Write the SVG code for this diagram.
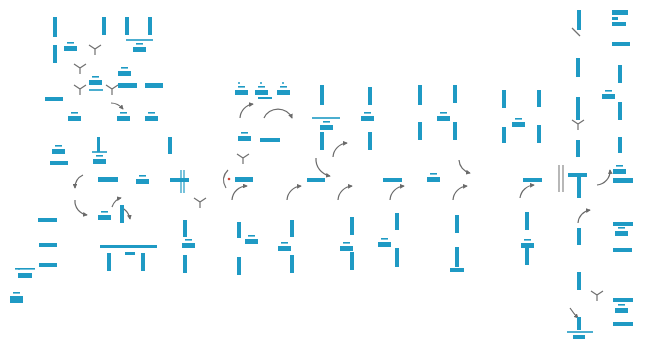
<svg xmlns="http://www.w3.org/2000/svg" xmlns:xlink="http://www.w3.org/1999/xlink" width="645" height="347" viewBox="0 0 645 347">
<style>
.b{fill:#1f9ac4}
.l{stroke:#1f9ac4;stroke-width:1.6}
.a{fill:none;stroke:#6a6a6a;stroke-width:1.2;marker-end:url(#ah)}
.y{fill:none;stroke:#707070;stroke-width:1.2}
</style>
<defs>
<marker id="ah" viewBox="0 0 6 6" refX="5" refY="3" markerWidth="4" markerHeight="4" orient="auto"><path d="M0,0 L6,3 L0,6 z" fill="#6a6a6a"/></marker>
<g id="lab"><rect class="b" x="3" y="0" width="7" height="1.6"/><rect class="b" x="0" y="4" width="13" height="5"/></g>
<g id="ys"><path class="y" d="M0,0 L-6,-4 M0,0 L6,-4 M0,0 L0,6"/></g>
</defs>
<rect width="645" height="347" fill="#ffffff"/>

<g id="left-top">
<rect class="b" x="53" y="17" width="4" height="20"/>
<rect class="b" x="53" y="45" width="4" height="18"/>
<rect class="b" x="102" y="17" width="4" height="18"/>
<rect class="b" x="125" y="17" width="4" height="18"/>
<rect class="b" x="148" y="17" width="4" height="18"/>
<line class="l" x1="126" y1="40" x2="153" y2="40"/>
<use xlink:href="#lab" x="64" y="42"/>
<use xlink:href="#lab" x="133" y="43"/>
<use xlink:href="#ys" x="95" y="49"/>
<use xlink:href="#ys" x="80" y="68"/>
<use xlink:href="#ys" x="80" y="89"/>
<use xlink:href="#ys" x="112" y="89"/>
<use xlink:href="#lab" x="89" y="76"/>
<line class="l" x1="89" y1="90" x2="103" y2="90"/>
<use xlink:href="#lab" x="118" y="67"/>
<rect class="b" x="118" y="83" width="19" height="5"/>
<rect class="b" x="145" y="83" width="18" height="5"/>
<rect class="b" x="45" y="97" width="18" height="4"/>
<path class="a" d="M111,103 Q118,103 123,109"/>
<use xlink:href="#lab" x="68" y="112"/>
<use xlink:href="#lab" x="117" y="112"/>
<use xlink:href="#lab" x="145" y="112"/>
</g>

<g id="left-mid">
<use xlink:href="#lab" x="52" y="145"/>
<rect class="b" x="50" y="161" width="18" height="4"/>
<rect class="b" x="97" y="137" width="3" height="15"/>
<line class="l" x1="92" y1="152" x2="107" y2="152"/>
<use xlink:href="#lab" x="93" y="155"/>
<rect class="b" x="168" y="137" width="4" height="17"/>
<path class="a" d="M83,175 A14,14 0 0 0 75,188"/>
<rect class="b" x="98" y="177" width="20" height="5"/>
<use xlink:href="#lab" x="136" y="175"/>
<rect class="b" x="170" y="178" width="19" height="4"/>
<line class="l" x1="181" y1="170" x2="181" y2="193" style="stroke-width:1.2"/>
<line class="l" x1="184" y1="170" x2="184" y2="193" style="stroke-width:1.2"/>
<path class="a" d="M75,200 A14,14 0 0 0 87,215"/>
<use xlink:href="#lab" x="98" y="211"/>
<rect class="b" x="120" y="205" width="4" height="18"/>
<path class="a" d="M112,207 Q115,199 121,198"/>
<path class="a" d="M124,209 Q129,213 130,219"/>
<rect class="b" x="38" y="218" width="19" height="4"/>
<use xlink:href="#ys" x="200" y="202"/>
</g>

<g id="left-bottom">
<rect class="b" x="39" y="243" width="18" height="4"/>
<rect class="b" x="39" y="263" width="18" height="4"/>
<rect class="b" x="18" y="268" width="2" height="1.5"/>
<rect class="b" x="15" y="268" width="20" height="1.6"/>
<rect class="b" x="18" y="273" width="14" height="5"/>
<use xlink:href="#lab" x="10" y="292"/>
<rect class="b" x="10" y="298" width="13" height="5"/>
<rect class="b" x="100" y="245" width="57" height="3"/>
<rect class="b" x="125" y="252" width="10" height="3"/>
<rect class="b" x="107" y="253" width="4" height="18"/>
<rect class="b" x="141" y="253" width="4" height="18"/>
<rect class="b" x="183" y="220" width="4" height="17"/>
<use xlink:href="#lab" x="182" y="239"/>
<rect class="b" x="183" y="255" width="4" height="18"/>
</g>

<g id="middle-top">
<use xlink:href="#lab" x="235" y="86"/>
<use xlink:href="#lab" x="255" y="86"/>
<use xlink:href="#lab" x="277" y="86"/>
<circle cx="239" cy="83" r="1" fill="#1f9ac4"/>
<circle cx="261" cy="83" r="1" fill="#1f9ac4"/>
<circle cx="283" cy="83" r="1" fill="#1f9ac4"/>
<rect class="b" x="258" y="97" width="14" height="2"/>
<path class="a" d="M240,118 A15,15 0 0 1 253,104"/>
<path class="a" d="M264,118 A15,14 0 0 1 292,118"/>
<use xlink:href="#lab" x="238" y="132"/>
<rect class="b" x="260" y="138" width="20" height="4"/>
<use xlink:href="#ys" x="243" y="158"/>
<path class="y" d="M228,170 Q220,178 226,188"/>
<circle cx="229" cy="179" r="1.3" fill="#d04a3a"/>
<rect class="b" x="235" y="177" width="18" height="5"/>
<rect class="b" x="320" y="85" width="4" height="20"/>
<line class="l" x1="312" y1="118" x2="340" y2="118"/>
<use xlink:href="#lab" x="320" y="121"/>
<rect class="b" x="320" y="132" width="4" height="18"/>
<rect class="b" x="368" y="87" width="4" height="18"/>
<use xlink:href="#lab" x="361" y="112"/>
<rect class="b" x="368" y="132" width="4" height="18"/>
<path class="a" d="M333,157 A15,15 0 0 1 347,143"/>
<path class="a" d="M316,158 A17,17 0 0 0 330,176"/>
<rect class="b" x="307" y="178" width="18" height="4"/>
<rect class="b" x="383" y="178" width="19" height="4"/>
<use xlink:href="#lab" x="427" y="173"/>
<rect class="b" x="523" y="178" width="19" height="4"/>
<path class="a" d="M459,160 A14,14 0 0 0 470,173"/>
<rect class="b" x="418" y="85" width="4" height="20"/>
<rect class="b" x="418" y="122" width="4" height="18"/>
<rect class="b" x="453" y="85" width="4" height="18"/>
<rect class="b" x="453" y="122" width="4" height="18"/>
<use xlink:href="#lab" x="437" y="112"/>
<rect class="b" x="502" y="90" width="4" height="18"/>
<rect class="b" x="502" y="127" width="4" height="16"/>
<rect class="b" x="537" y="90" width="4" height="17"/>
<rect class="b" x="537" y="125" width="4" height="18"/>
<use xlink:href="#lab" x="512" y="118"/>
</g>

<g id="middle-arcs">
<path class="a" d="M232,200 A15,15 0 0 1 247,186"/>
<path class="a" d="M287,200 A15,15 0 0 1 301,186"/>
<path class="a" d="M338,200 A15,15 0 0 1 352,186"/>
<path class="a" d="M390,200 A15,15 0 0 1 404,186"/>
<path class="a" d="M453,200 A15,15 0 0 1 467,186"/>
<path class="a" d="M520,198 A15,15 0 0 1 534,185"/>
</g>

<g id="middle-bottom">
<rect class="b" x="237" y="222" width="4" height="16"/>
<use xlink:href="#lab" x="245" y="235"/>
<rect class="b" x="237" y="257" width="4" height="18"/>
<rect class="b" x="290" y="220" width="4" height="17"/>
<use xlink:href="#lab" x="278" y="242"/>
<rect class="b" x="290" y="255" width="4" height="18"/>
<rect class="b" x="350" y="217" width="4" height="18"/>
<use xlink:href="#lab" x="340" y="242"/>
<rect class="b" x="350" y="252" width="4" height="18"/>
<rect class="b" x="395" y="213" width="4" height="17"/>
<use xlink:href="#lab" x="378" y="238"/>
<rect class="b" x="395" y="248" width="4" height="19"/>
<rect class="b" x="455" y="215" width="4" height="18"/>
<rect class="b" x="455" y="247" width="4" height="20"/>
<rect class="b" x="450" y="268" width="14" height="4"/>
<rect class="b" x="525" y="212" width="4" height="18"/>
<use xlink:href="#lab" x="521" y="239"/>
<rect class="b" x="525" y="248" width="4" height="17"/>
</g>

<g id="right">
<rect class="b" x="577" y="10" width="4" height="20"/>
<path class="y" d="M572,28 L580,36"/>
<rect class="b" x="612" y="10" width="16" height="5"/>
<rect class="b" x="612" y="17" width="6" height="3"/>
<rect class="b" x="612" y="22" width="14" height="4"/>
<rect class="b" x="612" y="42" width="18" height="4"/>
<rect class="b" x="576" y="58" width="4" height="19"/>
<rect class="b" x="618" y="65" width="4" height="18"/>
<use xlink:href="#lab" x="602" y="90"/>
<rect class="b" x="576" y="97" width="4" height="23"/>
<use xlink:href="#ys" x="578" y="124"/>
<rect class="b" x="618" y="102" width="4" height="18"/>
<rect class="b" x="576" y="140" width="4" height="17"/>
<rect class="b" x="618" y="137" width="4" height="16"/>
<line x1="559" y1="165" x2="559" y2="192" stroke="#888" stroke-width="1.2"/>
<line x1="563" y1="165" x2="563" y2="192" stroke="#888" stroke-width="1.2"/>
<rect class="b" x="568" y="173" width="19" height="4"/>
<rect class="b" x="577" y="176" width="4" height="22"/>
<path class="a" d="M597,185 A14,14 0 0 0 610,170"/>
<use xlink:href="#lab" x="613" y="165"/>
<rect class="b" x="613" y="178" width="20" height="5"/>
<path class="a" d="M578,223 A14,14 0 0 1 590,210"/>
<rect class="b" x="577" y="228" width="4" height="17"/>
<rect class="b" x="613" y="222" width="20" height="4"/>
<use xlink:href="#lab" x="615" y="227"/>
<rect class="b" x="613" y="248" width="19" height="4"/>
<rect class="b" x="577" y="272" width="4" height="18"/>
<use xlink:href="#ys" x="597" y="295"/>
<rect class="b" x="613" y="298" width="20" height="4"/>
<use xlink:href="#lab" x="615" y="304"/>
<rect class="b" x="613" y="322" width="20" height="4"/>
<path class="a" d="M570,308 Q574,314 578,318"/>
<rect class="b" x="577" y="317" width="4" height="13"/>
<line class="l" x1="567" y1="332" x2="593" y2="332"/>
<rect class="b" x="573" y="335" width="12" height="4"/>
</g>
</svg>
